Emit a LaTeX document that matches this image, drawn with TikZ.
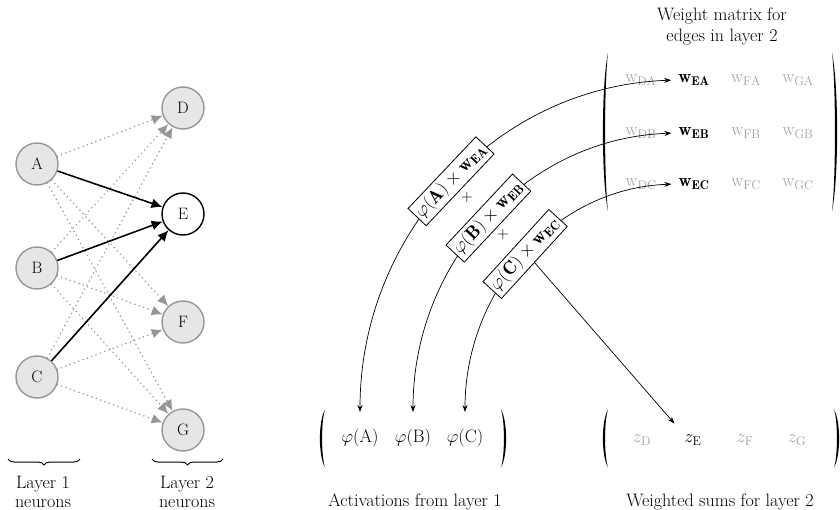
\RequirePackage{fix-cm}
\documentclass[tikz,border=0pt]{standalone}
\usepackage{fontspec}
\usetikzlibrary{arrows.meta,decorations.pathreplacing}
\definecolor{edgegray}{RGB}{150,150,150}
\definecolor{nodefill}{RGB}{230,230,232}
\definecolor{entrygray}{RGB}{160,160,160}
\tikzset{
  pics/lpar/.style={code={\fill (0,#1/2) .. controls (-6.8,#1*0.3) and (-6.8,-#1*0.3) .. (0,-#1/2) .. controls (-3.9,-#1*0.3) and (-3.9,#1*0.3) .. cycle;}},
  pics/rpar/.style={code={\fill (0,#1/2) .. controls (6.8,#1*0.3) and (6.8,-#1*0.3) .. (0,-#1/2) .. controls (3.9,-#1*0.3) and (3.9,#1*0.3) .. cycle;}}
}
\begin{document}
\begin{tikzpicture}[x=1pt,y=1pt,
  neuron/.style={circle, minimum size=42pt, inner sep=0pt, line width=1.4pt, draw=edgegray, fill=nodefill, font=\fontsize{16.5}{18}\selectfont},
  active/.style={neuron, draw=black, fill=white},
  dotedge/.style={draw=edgegray, line width=1.7pt, line cap=round, dash pattern=on 0pt off 4.6pt, -{Latex[length=11pt,width=10pt,fill=edgegray]}},
  soledge/.style={draw=black, line width=1.6pt, -{Latex[length=11pt,width=10pt]}},
  lbl/.style={font=\fontsize{18}{19}\selectfont, align=center, inner sep=1pt},
  entry/.style={font=\fontsize{18}{20}\selectfont, inner sep=2pt},
  graytxt/.style={text=entrygray},
  curve/.style={line width=0.7pt, {Stealth[length=7pt,width=5pt]}-{Stealth[length=7pt,width=5pt]}},
  prodbox/.style={draw, line width=0.8pt, fill=white, sloped, font=\fontsize{18.5}{20}\selectfont, inner sep=2.5pt, minimum height=25pt},
  bracestyle/.style={line width=1pt, decorate, decoration={brace, mirror, amplitude=6pt}},
]
\useasboundingbox (0,0) rectangle (840,-510);

% network
\node[neuron] (A) at (37,-164) {A};
\node[neuron] (B) at (37,-268) {B};
\node[neuron] (C) at (37,-377) {C};
\node[neuron] (D) at (183,-108) {D};
\node[active] (E) at (183,-214) {E};
\node[neuron] (F) at (183,-322) {F};
\node[neuron] (G) at (183,-430) {G};

\foreach \s in {A,B,C}{
  \foreach \t in {D,F,G}{
    \draw[dotedge] (\s) -- (\t);
  }
}
\foreach \s in {A,B,C}{
  \draw[soledge] (\s) -- (E);
}

\draw[bracestyle] (8,-459) -- (80,-459);
\draw[bracestyle] (152,-459) -- (223,-459);
\node[lbl] (l1) at (43,-492) {Layer 1\\neurons};
\node[lbl] (l2) at (187,-492) {Layer 2\\neurons};

% weight matrix
\node[lbl, font=\fontsize{18}{21}\selectfont] (title) at (722,-27) {Weight matrix for\\edges in layer 2};
\pic at (608,-132) {lpar=158};
\pic at (832,-132) {rpar=158};

\node[entry,graytxt] (wDA) at (641,-80) {$\mathrm{w}_{\mathrm{DA}}$};
\node[entry] (wEA) at (694,-80) {$\mathbf{w}_{\mathbf{EA}}$};
\node[entry,graytxt] (wFA) at (746,-80) {$\mathrm{w}_{\mathrm{FA}}$};
\node[entry,graytxt] (wGA) at (798,-80) {$\mathrm{w}_{\mathrm{GA}}$};

\node[entry,graytxt] (wDB) at (641,-133) {$\mathrm{w}_{\mathrm{DB}}$};
\node[entry] (wEB) at (694,-133) {$\mathbf{w}_{\mathbf{EB}}$};
\node[entry,graytxt] (wFB) at (746,-133) {$\mathrm{w}_{\mathrm{FB}}$};
\node[entry,graytxt] (wGB) at (798,-133) {$\mathrm{w}_{\mathrm{GB}}$};

\node[entry,graytxt] (wDC) at (641,-184) {$\mathrm{w}_{\mathrm{DC}}$};
\node[entry] (wEC) at (694,-184) {$\mathbf{w}_{\mathbf{EC}}$};
\node[entry,graytxt] (wFC) at (746,-184) {$\mathrm{w}_{\mathrm{FC}}$};
\node[entry,graytxt] (wGC) at (798,-184) {$\mathrm{w}_{\mathrm{GC}}$};

% activations vector
\pic at (325,-438.5) {lpar=58};
\pic at (501,-438.5) {rpar=58};
\node[entry] (phiA) at (360,-438) {$\varphi(\mathrm{A})$};
\node[entry] (phiB) at (413,-438) {$\varphi(\mathrm{B})$};
\node[entry] (phiC) at (465,-438) {$\varphi(\mathrm{C})$};
\node[lbl] (actlbl) at (415,-502) {Activations from layer 1};

% weighted sums vector
\pic at (608,-438.5) {lpar=58};
\pic at (834,-438.5) {rpar=58};
\node[entry,graytxt] (zD) at (642,-440) {$z_{\mathrm{D}}$};
\node[entry] (zE) at (693,-440) {$z_{\mathrm{E}}$};
\node[entry,graytxt] (zF) at (745,-440) {$z_{\mathrm{F}}$};
\node[entry,graytxt] (zG) at (797,-440) {$z_{\mathrm{G}}$};
\node[lbl] (wslbl) at (720,-502) {Weighted sums for layer 2};

% curved connectors
\coordinate (tA) at (360,-412);
\coordinate (tB) at (413,-412);
\coordinate (tC) at (465,-412);
\draw[curve, shorten >=5pt] (tA) to[out=90,in=182] node[prodbox] (pA) {$\varphi(\mathbf{A})\times\mathbf{w}_{\mathbf{EA}}$} (wEA.west);
\draw[curve, shorten >=5pt] (tB) to[out=90,in=182] node[prodbox] (pB) {$\varphi(\mathbf{B})\times\mathbf{w}_{\mathbf{EB}}$} (wEB.west);
\draw[curve, shorten >=5pt] (tC) to[out=90,in=182] node[prodbox] (pC) {$\varphi(\mathbf{C})\times\mathbf{w}_{\mathbf{EC}}$} (wEC.west);
\node[font=\fontsize{16}{18}\selectfont] (plus1) at (467,-198) {$+$};
\node[font=\fontsize{16}{18}\selectfont] (plus2) at (503,-235) {$+$};
\draw[line width=0.7pt, -{Stealth[length=7pt,width=5pt]}, shorten >=12pt] (pC.south) -- (zE.north west);
\end{tikzpicture}
\end{document}
